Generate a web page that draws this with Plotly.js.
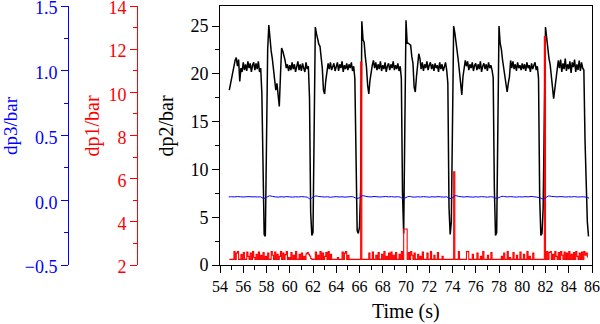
<!DOCTYPE html>
<html><head><meta charset="utf-8">
<script src="https://cdn.plot.ly/plotly-3.0.1.min.js"></script>
<style>html,body{margin:0;padding:0;background:#fff}#chart{width:600px;height:324px}</style>
</head><body><div id="chart"></div>
<script>
// sampling of dp2 / dp1 (s)
const T_START = 54.8, T_STEP = 0.1;
// sampling of dp3 (s)
const T3_START = 54.75, T3_STEP = 0.25;

// dp2 (bar), 54.8 ... 85.7 s
const dp2 = [
18.3, 18.9,
19.4, 20.1, 20.9, 21.4, 21.7, 20.8, 21.5, 19.2, 20.6, 20.2,
21.2, 20.4, 21.0, 20.3, 21.3, 20.6, 21.1, 20.2, 20.9, 21.2,
20.4, 21.1, 20.5, 21.3, 20.2, 20.6, 18.0, 8.0, 3.2, 3.0,
10.5, 22.5, 25.1, 23.6, 22.4, 21.6, 20.3, 19.4, 18.3, 19.0,
17.5, 16.6, 19.8, 22.7, 22.4, 22.0, 21.4, 20.6, 21.0, 20.3,
20.9, 20.4, 21.2, 20.5, 21.0, 20.2, 20.8, 21.3, 20.4, 21.0,
20.3, 21.1, 20.6, 20.2, 21.2, 20.5, 20.8, 17.5, 5.5, 3.1,
3.4, 12.0, 24.9, 24.2, 23.4, 23.1, 22.9, 21.5, 20.6, 18.3,
17.9, 19.3, 20.4, 21.1, 20.5, 21.2, 20.4, 20.9, 21.1, 20.3,
20.8, 21.2, 20.3, 21.0, 20.6, 21.3, 20.2, 20.9, 20.5, 21.1,
20.4, 21.0, 20.6, 21.2, 20.3, 20.8, 19.5, 9.0, 3.6, 3.3,
4.0, 8.0, 25.5, 23.6, 23.3, 21.8, 20.7, 18.8, 17.9, 19.3,
20.2, 20.9, 21.4, 20.6, 21.2, 20.4, 21.0, 20.5, 21.3, 20.3,
20.9, 20.5, 21.2, 20.2, 20.8, 21.1, 20.4, 21.0, 20.6, 21.3,
20.4, 20.9, 20.5, 21.1, 20.3, 20.8, 19.5, 7.5, 3.3, 12.0,
25.6, 23.2, 23.2, 23.1, 23.0, 21.8, 21.1, 18.6, 18.1, 19.7,
21.0, 22.1, 21.6, 20.5, 21.2, 20.3, 21.0, 20.6, 21.3, 20.4,
20.9, 21.2, 20.5, 21.0, 20.3, 21.1, 20.6, 20.9, 20.2, 21.2,
20.5, 21.0, 20.3, 20.9, 21.2, 20.4, 19.0, 6.0, 3.2, 4.5,
18.0, 25.0, 24.3, 23.4, 22.6, 21.4, 20.2, 18.6, 17.8, 19.7,
20.6, 21.4, 20.8, 21.3, 20.4, 21.0, 20.6, 21.2, 20.3, 20.9,
21.1, 20.4, 21.0, 20.5, 21.3, 20.2, 20.8, 21.1, 20.5, 21.0,
20.3, 21.2, 20.6, 20.9, 20.4, 19.6, 8.0, 3.1, 3.4, 14.0,
25.0, 23.2, 22.6, 21.5, 20.7, 19.8, 18.7, 18.1, 19.0, 19.7,
21.4, 20.6, 21.3, 20.5, 21.0, 20.3, 21.2, 20.6, 20.9, 20.4,
21.1, 20.5, 21.0, 20.3, 21.2, 20.6, 20.9, 20.2, 21.1, 20.5,
20.9, 21.2, 20.4, 20.8, 19.5, 7.0, 3.1, 3.3, 6.0, 17.0,
24.9, 23.8, 22.5, 21.6, 21.0, 19.5, 18.0, 17.4, 18.4, 19.3,
20.4, 21.4, 20.6, 21.5, 20.2, 21.1, 20.5, 21.6, 20.3, 21.0,
20.5, 21.3, 20.1, 21.2, 20.7, 21.5, 20.2, 21.0, 20.4, 21.4,
20.3, 21.2, 20.6, 20.4, 13.0, 7.0, 4.5, 3.0
];

// dp1 (bar), 54.8 ... 85.6 s
const dp1 = [
2.26, 2.26,
2.26, 2.26, 2.62, 2.26, 2.55, 2.62, 2.26, 2.26, 2.48, 2.26,
2.58, 2.26, 2.26, 2.60, 2.40, 2.26, 2.55, 2.26, 2.62, 2.35,
2.26, 2.50, 2.26, 2.60, 2.26, 2.45, 2.26, 2.58, 2.26, 2.40,
2.26, 2.55, 2.26, 2.26, 2.62, 2.45, 2.26, 2.60, 2.26, 2.50,
2.26, 2.40, 2.62, 2.26, 2.55, 2.26, 2.48, 2.62, 2.26, 2.35,
2.26, 2.58, 2.26, 2.45, 2.26, 2.62, 2.26, 2.26, 2.50, 2.26,
2.55, 2.26, 2.40, 2.26, 2.52, 2.58, 2.50, 2.42, 2.30, 2.26,
2.26, 2.26, 2.60, 2.26, 2.45, 2.26, 2.62, 2.26, 2.55, 2.26,
2.40, 2.58, 2.26, 2.62, 2.26, 2.50, 2.26, 2.26, 2.26, 2.26,
2.26, 2.35, 2.26, 2.26, 2.26, 2.60, 2.26, 2.55, 2.62, 2.26,
2.45, 2.26, 2.26, 2.26, 2.26, 2.26, 2.26, 2.26, 2.26, 2.26,
2.26, 11.40, 2.26, 2.26, 2.26, 2.26, 2.26, 2.26, 2.55, 2.26,
2.26, 2.60, 2.26, 2.26, 2.45, 2.26, 2.58, 2.26, 2.26, 2.50,
2.26, 2.62, 2.26, 2.40, 2.26, 2.55, 2.26, 2.60, 2.26, 2.45,
2.26, 2.58, 2.26, 2.26, 2.50, 2.26, 2.62, 2.26, 3.67, 3.67,
3.67, 2.26, 2.58, 2.26, 2.62, 2.45, 2.26, 2.55, 2.26, 2.26,
2.50, 2.26, 2.40, 2.26, 2.60, 2.26, 2.26, 2.26, 2.55, 2.26,
2.26, 2.62, 2.26, 2.26, 2.45, 2.26, 2.26, 2.58, 2.26, 2.26,
2.26, 2.40, 2.26, 2.26, 2.26, 2.26, 2.26, 2.26, 2.26, 2.26,
2.26, 6.32, 2.26, 2.26, 2.26, 2.62, 2.26, 2.26, 2.26, 2.26,
2.26, 2.26, 2.62, 2.62, 2.26, 2.26, 2.26, 2.50, 2.26, 2.26,
2.26, 2.55, 2.26, 2.26, 2.40, 2.26, 2.62, 2.26, 2.26, 2.26,
2.45, 2.26, 2.26, 2.58, 2.26, 2.26, 2.26, 2.26, 2.26, 2.26,
2.26, 2.26, 2.40, 2.26, 2.55, 2.26, 2.26, 2.62, 2.26, 2.35,
2.26, 2.26, 2.58, 2.26, 2.26, 2.45, 2.26, 2.26, 2.60, 2.26,
2.26, 2.50, 2.26, 2.26, 2.62, 2.26, 2.40, 2.26, 2.26, 2.55,
2.26, 2.26, 2.26, 2.26, 2.26, 2.26, 2.26, 2.26, 2.26, 12.58,
2.26, 2.62, 2.26, 2.58, 2.62, 2.26, 2.50, 2.26, 2.62, 2.40,
2.26, 2.58, 2.26, 2.62, 2.45, 2.26, 2.60, 2.26, 2.55, 2.26,
2.62, 2.26, 2.50, 2.26, 2.58, 2.26, 2.62, 2.40, 2.26, 2.55,
2.26, 2.60, 2.26, 2.62, 2.45, 2.55, 2.35
];

// dp3 (bar), 54.75 ... 85.75 s
const dp3 = [
0.026,
0.027, 0.026, 0.028, 0.027,
0.025, 0.027, 0.028, 0.026,
0.027, 0.025, 0.026, 0.014,
0.022, 0.034, 0.030, 0.026,
0.024, 0.027, 0.025, 0.028,
0.026, 0.024, 0.027, 0.025,
0.028, 0.026, 0.024, 0.010,
0.024, 0.033, 0.029, 0.027,
0.025, 0.027, 0.023, 0.026,
0.028, 0.025, 0.027, 0.024,
0.026, 0.028, 0.025, 0.013,
0.020, 0.035, 0.031, 0.027,
0.026, 0.029, 0.027, 0.025,
0.027, 0.029, 0.026, 0.028,
0.025, 0.027, 0.024, 0.012,
0.021, 0.030, 0.026, 0.024,
0.027, 0.025, 0.028, 0.026,
0.024, 0.027, 0.025, 0.028,
0.026, 0.024, 0.027, 0.013,
0.020, 0.036, 0.030, 0.027,
0.025, 0.028, 0.026, 0.024,
0.027, 0.025, 0.028, 0.026,
0.024, 0.027, 0.025, 0.014,
0.021, 0.030, 0.028, 0.026,
0.028, 0.026, 0.024, 0.027,
0.025, 0.028, 0.026, 0.029,
0.027, 0.024, 0.020, 0.010,
0.018, 0.033, 0.030, 0.028,
0.026, 0.028, 0.027, 0.025,
0.027, 0.026, 0.028, 0.025,
0.026, 0.027, 0.024, 0.016
];

// tick labels
const xTickVals = [54, 56, 58, 60, 62, 64, 66, 68, 70, 72, 74, 76, 78, 80, 82, 84, 86];
const dp2TickVals = [0, 5, 10, 15, 20, 25];
const dp1TickVals = [2, 4, 6, 8, 10, 12, 14];
const dp3TickVals = [-0.5, 0.0, 0.5, 1.0, 1.5];

const FONT = '"Liberation Serif", "Times New Roman", Times, serif';
const RED = "#ff0000", BLUE = "#0000ff", BLACK = "#000000";

const traces = [
  {type: "scatter", mode: "lines", x0: T_START, dx: T_STEP, y: dp2, xaxis: "x", yaxis: "y",
   line: {color: BLACK, width: 1.5}, hoverinfo: "skip", showlegend: false},
  {type: "scatter", mode: "lines", x0: T3_START, dx: T3_STEP, y: dp3, xaxis: "x", yaxis: "y3",
   line: {color: BLUE, width: 1, shape: "spline"}, hoverinfo: "skip", showlegend: false},
  {type: "scatter", mode: "lines", x0: T_START, dx: T_STEP, y: dp1, xaxis: "x", yaxis: "y2",
   line: {color: RED, width: 1.1, shape: "hv"}, hoverinfo: "skip", showlegend: false}
];

const yDom = [1 - 265 / 324, 1 - 6 / 324];
const tickFont = (c, s) => ({family: FONT, size: s, color: c});

const layout = {
  width: 600, height: 324,
  margin: {l: 0, r: 0, t: 0, b: 0},
  paper_bgcolor: "#fff", plot_bgcolor: "rgba(0,0,0,0)",
  font: {family: FONT, color: BLACK, size: 17},
  xaxis: {
    domain: [220 / 600, 592 / 600], range: [54, 86],
    tickmode: "array", tickvals: xTickVals,
    ticks: "outside", ticklen: 7, tickwidth: 1, tickcolor: BLACK,
    minor: {dtick: 1, ticks: "outside", ticklen: 4, tickwidth: 1, tickcolor: BLACK, showgrid: false},
    showline: true, linecolor: BLACK, linewidth: 1, mirror: true,
    showgrid: false, zeroline: false, tickfont: tickFont(BLACK, 16), automargin: false,
    ticklabeloverflow: "allow"
  },
  yaxis: {
    domain: yDom, range: [0, 27.1],
    tickmode: "array", tickvals: dp2TickVals,
    ticks: "outside", ticklen: 7, tickwidth: 1, tickcolor: BLACK,
    minor: {dtick: 2.5, ticks: "outside", ticklen: 4, tickwidth: 1, tickcolor: BLACK, showgrid: false},
    showline: true, linecolor: BLACK, linewidth: 1, mirror: true,
    showgrid: false, zeroline: false, tickfont: tickFont(BLACK, 18), automargin: false,
    ticklabeloverflow: "allow"
  },
  yaxis2: {
    overlaying: "y", anchor: "free", position: 137 / 600, side: "left",
    range: [2, 14], tickmode: "array", tickvals: dp1TickVals,
    ticks: "outside", ticklen: 7, tickwidth: 1, tickcolor: RED,
    minor: {dtick: 1, ticks: "outside", ticklen: 4, tickwidth: 1, tickcolor: RED, showgrid: false},
    showline: true, linecolor: RED, linewidth: 1,
    showgrid: false, zeroline: false, tickfont: tickFont(RED, 18), automargin: false,
    ticklabeloverflow: "allow", ticklabelshift: 2
  },
  yaxis3: {
    overlaying: "y", anchor: "free", position: 68 / 600, side: "left",
    range: [-0.5, 1.5], tickmode: "array", tickvals: dp3TickVals, tickformat: ".1f",
    ticks: "outside", ticklen: 7, tickwidth: 1, tickcolor: BLUE,
    minor: {dtick: 0.25, ticks: "outside", ticklen: 4, tickwidth: 1, tickcolor: BLUE, showgrid: false},
    showline: true, linecolor: BLUE, linewidth: 1,
    showgrid: false, zeroline: false, tickfont: tickFont(BLUE, 18), automargin: false,
    ticklabeloverflow: "allow", ticklabelshift: 2
  },
  annotations: [
    {text: "Time (s)", xref: "paper", yref: "paper", x: 406 / 600, y: 1 - 311 / 324,
     xanchor: "center", yanchor: "middle", showarrow: false, font: {family: FONT, size: 20, color: BLACK}},
    {text: "dp2/bar", xref: "paper", yref: "paper", x: 166.5 / 600, y: 1 - 126 / 324, textangle: -90,
     xanchor: "center", yanchor: "middle", showarrow: false, font: {family: FONT, size: 20, color: BLACK}},
    {text: "dp1/bar", xref: "paper", yref: "paper", x: 92.5 / 600, y: 1 - 126 / 324, textangle: -90,
     xanchor: "center", yanchor: "middle", showarrow: false, font: {family: FONT, size: 20, color: RED}},
    {text: "dp3/bar", xref: "paper", yref: "paper", x: 11 / 600, y: 1 - 126 / 324, textangle: -90,
     xanchor: "center", yanchor: "middle", showarrow: false, font: {family: FONT, size: 19, color: BLUE}}
  ]
};

Plotly.newPlot("chart", traces, layout, {staticPlot: true, displayModeBar: false});
</script>
</body></html>
